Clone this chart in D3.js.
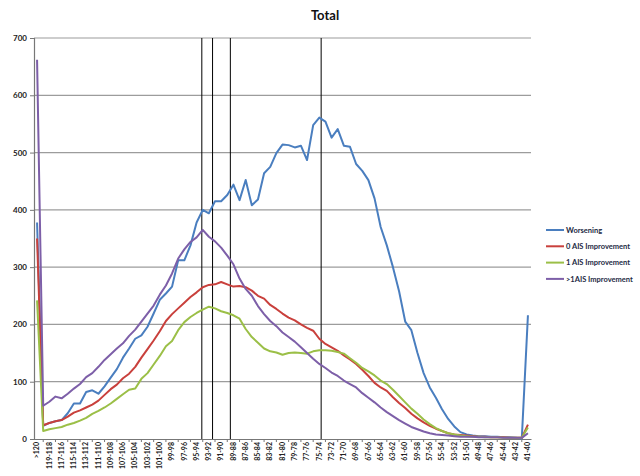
<!DOCTYPE html>
<html>
<head>
<meta charset="utf-8">
<script src="https://cdn.jsdelivr.net/npm/d3@7"></script>
<style>
  html, body { margin: 0; padding: 0; background: #fff; }
  svg { display: block; }
  text { font-family: Lato, "Open Sans", "DejaVu Sans", sans-serif; }
</style>
</head>
<body>
<svg id="chart" width="640" height="476"></svg>
<script>
// Score bands, highest first; every other one is labelled on the axis
const categories = [
  ">120","120-119","119-118","118-117","117-116","116-115","115-114","114-113","113-112","112-111",
  "111-110","110-109","109-108","108-107","107-106","106-105","105-104","104-103","103-102","102-101",
  "101-100","100-99","99-98","98-97","97-96","96-95","95-94","94-93","93-92","92-91",
  "91-90","90-89","89-88","88-87","87-86","86-85","85-84","84-83","83-82","82-81",
  "81-80","80-79","79-78","78-77","77-76","76-75","75-74","74-73","73-72","72-71",
  "71-70","70-69","69-68","68-67","67-66","66-65","65-64","64-63","63-62","62-61",
  "61-60","60-59","59-58","58-57","57-56","56-55","55-54","54-53","53-52","52-51",
  "51-50","50-49","49-48","48-47","47-46","46-45","45-44","44-43","43-42","42-41",
  "41-40"
];

const worsening = [
  378, 23, 28, 31, 33, 45, 62, 62, 82, 85,
  79, 92, 107, 122, 142, 158, 175, 181, 196, 219,
  243, 254, 266, 312, 312, 338, 378, 400, 394, 415,
  415, 426, 444, 417, 452, 408, 418, 464, 475, 499,
  514, 513, 509, 512, 487, 548, 561, 554, 526, 541,
  512, 510, 480, 468, 452, 420, 370, 338, 300, 258,
  205, 190, 150, 115, 90, 72, 52, 35, 22, 12,
  8, 6, 5, 5, 4, 4, 3, 3, 2, 1,
  216
];

const ais0 = [
  350, 24, 28, 31, 33, 39, 46, 50, 55, 60,
  67, 77, 87, 95, 106, 114, 126, 142, 157, 172,
  188, 206, 218, 228, 238, 248, 256, 265, 269, 270,
  274, 270, 266, 267, 265, 259, 250, 245, 234, 227,
  219, 212, 207, 200, 194, 189, 175, 166, 160, 154,
  146, 139, 131, 121, 110, 98, 90, 84, 73, 63,
  54, 44, 36, 29, 23, 18, 14, 10, 8, 7,
  6, 5, 4, 4, 3, 3, 3, 2, 2, 2,
  25
];

const ais1 = [
  242, 14, 17, 19, 21, 25, 28, 32, 37, 44,
  49, 55, 62, 70, 78, 86, 88, 105, 115, 130,
  145, 162, 171, 190, 204, 213, 220, 226, 231, 228,
  223, 220, 216, 210, 192, 178, 168, 158, 153, 151,
  147, 150, 151, 150, 149, 153, 155, 155, 154, 152,
  149, 141, 133, 124, 118, 111, 102, 96, 86, 75,
  64, 53, 44, 34, 26, 19, 14, 10, 8, 6,
  5, 4, 4, 3, 3, 3, 2, 2, 2, 2,
  20
];

const aisMore = [
  662, 58, 65, 74, 71, 79, 88, 96, 108, 115,
  126, 138, 148, 158, 167, 180, 191, 205, 219, 233,
  252, 268, 289, 315, 331, 344, 352, 365, 353, 345,
  334, 320, 305, 280, 262, 250, 232, 218, 206, 197,
  186, 178, 170, 160, 150, 140, 131, 124, 116, 110,
  102, 96, 90, 80, 72, 64, 55, 47, 40, 33,
  27, 21, 17, 13, 10, 8, 7, 6, 5, 4,
  4, 4, 3, 3, 3, 3, 2, 2, 2, 2,
  10
];

const seriesNames = ["Worsening", "0 AIS Improvement", "1 AIS Improvement", ">1AIS Improvement"];
const seriesColors = ["#4a7ebf", "#c9403c", "#9bbf47", "#7d5fa8"];
const yTicks = [0, 100, 200, 300, 400, 500, 600, 700];
// Positions (in band units) of the vertical marker lines
const markerPositions = [26.85, 28.6, 31.5, 46.3];

const series = [worsening, ais0, ais1, aisMore].map((values, k) => ({
  name: seriesNames[k], color: seriesColors[k], values
}));

const svg = d3.select("#chart");
const plot = { left: 34, right: 531, top: 38, bottom: 439 };

const x = d3.scaleBand().domain(categories).range([plot.left, plot.right]).padding(0);
const bw = x.bandwidth();
const xc = c => x(c) + bw / 2;
const xIdx = d3.scaleLinear().domain([0, categories.length - 1]).range([xc(categories[0]), xc(categories[categories.length - 1])]);
const y = d3.scaleLinear().domain([0, 700]).range([plot.bottom, plot.top]);

// Title
svg.append("text")
  .attr("x", 325).attr("y", 20)
  .attr("text-anchor", "middle")
  .attr("font-size", 13).attr("font-weight", "bold").attr("fill", "#111")
  .text("Total");

// Horizontal gridlines
svg.append("g").selectAll("line").data(yTicks.filter(t => t > 0)).join("line")
  .attr("x1", plot.left).attr("x2", plot.right)
  .attr("y1", d => y(d)).attr("y2", d => y(d))
  .attr("stroke", "#9c9c9c").attr("stroke-width", 1.2);

// Y axis
const yAxis = d3.axisLeft(y).tickValues(yTicks).tickSize(4).tickPadding(3);
const gy = svg.append("g").attr("transform", `translate(${plot.left},0)`).call(yAxis);
gy.select(".domain").attr("stroke", "#777").attr("stroke-width", 1.2);
gy.selectAll(".tick line").attr("stroke", "#777");
gy.selectAll(".tick text").attr("font-size", 8).attr("font-weight", "bold").attr("fill", "#222")
  .style("font-family", "Lato, sans-serif");

// X axis: label every other band
const xAxis = d3.axisBottom(x)
  .tickValues(categories.filter((c, i) => i % 2 === 0))
  .tickSize(0).tickPadding(3);
const gx = svg.append("g").attr("transform", `translate(0,${plot.bottom})`).call(xAxis);
gx.select(".domain").attr("stroke", "#777").attr("stroke-width", 1.2);
gx.selectAll(".tick text")
  .attr("font-size", 7).attr("font-weight", "bold").attr("fill", "#222")
  .style("font-family", "Lato, sans-serif")
  .attr("text-anchor", "end")
  .attr("dy", "0.32em").attr("dx", 0)
  .attr("transform", "translate(0,3) rotate(-90)")
  .attr("x", 0).attr("y", 0);
// small tick marks between labelled bands
svg.append("g").selectAll("line")
  .data(categories.filter((c, i) => i % 2 === 1))
  .join("line")
  .attr("x1", d => x(d) + bw / 2).attr("x2", d => x(d) + bw / 2)
  .attr("y1", plot.bottom).attr("y2", plot.bottom + 3)
  .attr("stroke", "#777");

// Vertical marker lines
svg.append("g").selectAll("line").data(markerPositions).join("line")
  .attr("x1", d => xIdx(d)).attr("x2", d => xIdx(d))
  .attr("y1", plot.top).attr("y2", plot.bottom)
  .attr("stroke", "#000").attr("stroke-width", 1);

// Series lines
const line = d3.line().x((d, i) => xc(categories[i])).y(d => y(d));
svg.append("g").selectAll("path").data(series).join("path")
  .attr("d", d => line(d.values))
  .attr("fill", "none")
  .attr("stroke", d => d.color)
  .attr("stroke-width", 2)
  .attr("stroke-linejoin", "round");

// Legend
const legend = svg.append("g").attr("transform", "translate(546,230)");
const item = legend.selectAll("g").data(series).join("g")
  .attr("transform", (d, i) => `translate(0,${i * 16.3})`);
item.append("line").attr("x1", 0).attr("x2", 18).attr("y1", 0).attr("y2", 0)
  .attr("stroke", d => d.color).attr("stroke-width", 2);
item.append("text").attr("x", 20).attr("y", 0).attr("dy", "0.35em")
  .attr("font-size", 7.5).attr("font-weight", "bold").attr("fill", "#1d2a44")
  .text(d => d.name);
</script>
</body>
</html>
